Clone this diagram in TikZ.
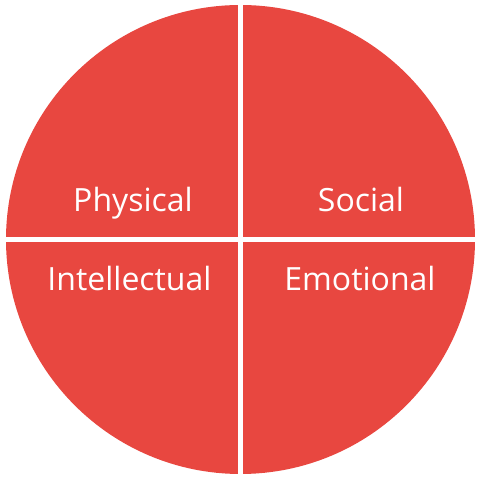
\documentclass[tikz,border=0pt]{standalone}
\usepackage{fontspec}
\setmainfont{Open Sans}
\definecolor{pie}{HTML}{E84740}
\begin{document}
\begin{tikzpicture}[x=1pt,y=1pt,
  lbl/.style={text=white,font=\fontsize{32}{37}\selectfont,anchor=base,inner sep=0pt}]
\useasboundingbox (0,0) rectangle (480,479);
\fill[pie] (240.5,239.5) circle (234.5);
\fill[white] (238,0) rectangle (243,479);
\fill[white] (0,237) rectangle (480,242);
\node[lbl] (phys) at (133,267) {Physical};
\node[lbl] (soc) at (361,267) {Social};
\node[lbl] (int) at (129.5,188.5) {Intellectual};
\node[lbl] (emo) at (360,188.5) {Emotional};
\end{tikzpicture}
\end{document}
